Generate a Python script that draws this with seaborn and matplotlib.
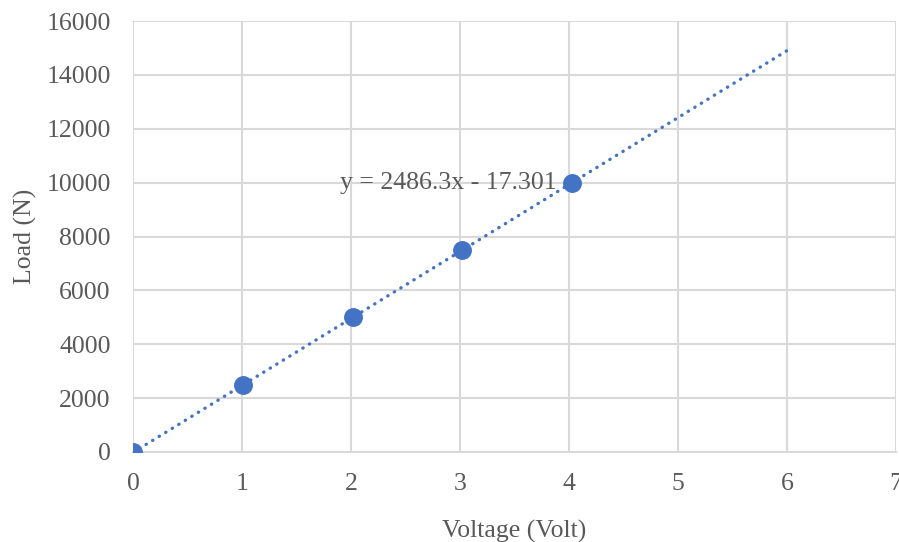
import numpy as np
import pandas as pd
import matplotlib
matplotlib.use("Agg")
import matplotlib.pyplot as plt
import seaborn as sns

# Calibration measurements
voltage = [0.0, 1.01, 2.02, 3.02, 4.03]
load = [0, 2500, 5000, 7500, 10000]

# Linear trendline coefficients
slope = 2486.3
intercept = -17.301
trend_x = [0, 6]

x_ticks = [0, 1, 2, 3, 4, 5, 6, 7]
y_ticks = [0, 2000, 4000, 6000, 8000, 10000, 12000, 14000, 16000]

df = pd.DataFrame({"Voltage (Volt)": voltage, "Load (N)": load})

sns.set_theme(style="white")
plt.rcParams["font.family"] = ["Liberation Serif", "DejaVu Serif"]

text_color = "#595959"
grid_color = "#d9d9d9"
blue = "#4472c4"
fs = 18.5

fig = plt.figure(figsize=(8.99, 5.42), dpi=100)
ax = fig.add_axes([133 / 899, 1 - 452 / 542, (896 - 133) / 899, (452 - 21) / 542])

tx = np.array(trend_x, dtype=float)
ax.plot(tx, slope * tx + intercept, linestyle=(0, (0.1, 2.2)), linewidth=2.4,
        color=blue, dash_capstyle="round", zorder=3)

sns.scatterplot(data=df, x="Voltage (Volt)", y="Load (N)", ax=ax, s=185,
                color=blue, edgecolor=blue, linewidth=0, zorder=4)

ax.set_xlim(0, 7)
ax.set_ylim(0, 16000)
ax.set_xticks(x_ticks)
ax.set_yticks(y_ticks)
ax.set_xticklabels([str(v) for v in x_ticks])
ax.set_yticklabels([str(v) for v in y_ticks])
ax.grid(True, color=grid_color, linewidth=1.5)
ax.set_axisbelow(True)
for side in ["top", "right", "left"]:
    ax.spines[side].set_visible(False)
ax.spines["bottom"].set_color(grid_color)
ax.spines["bottom"].set_linewidth(1.5)
ax.tick_params(axis="both", length=0, labelsize=fs, colors=text_color)
ax.tick_params(axis="x", pad=15)
ax.tick_params(axis="y", pad=16)

ax.set_xlabel("Voltage (Volt)", fontsize=fs, color=text_color, labelpad=18)
ax.set_ylabel("Load (N)", fontsize=fs, color=text_color, labelpad=7)

ax.text(1.9, 10000, f"y = {slope}x - {abs(intercept)}", fontsize=fs,
        color=text_color, va="center", ha="left", zorder=5)

fig.savefig("out.png", dpi=100, facecolor="white")
